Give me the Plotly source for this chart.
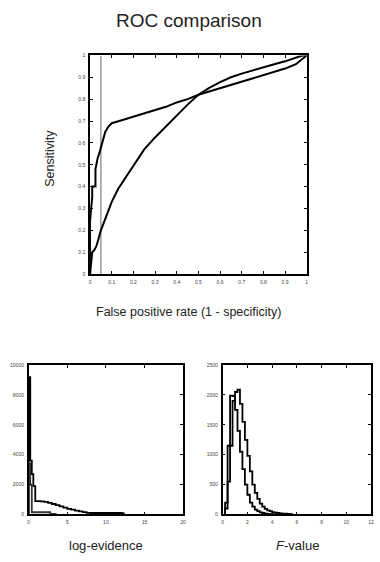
import plotly.graph_objects as go

# ---------------- data ----------------
# ROC curves
roc1_fpr = [0, 0, 0.005, 0.01, 0.01, 0.025, 0.025, 0.035, 0.045, 0.05, 0.06, 0.07, 0.085,
            0.1, 0.15, 0.2, 0.25, 0.3, 0.35, 0.4, 0.45, 0.5, 0.55, 0.6, 0.65, 0.7, 0.75,
            0.8, 0.85, 0.9, 0.95, 1.0]
roc1_tpr = [0, 0.24, 0.3, 0.35, 0.40, 0.40, 0.48, 0.53, 0.56, 0.58, 0.61, 0.65, 0.675,
            0.69, 0.705, 0.72, 0.735, 0.75, 0.765, 0.785, 0.80, 0.82, 0.835, 0.85, 0.865,
            0.88, 0.895, 0.91, 0.925, 0.94, 0.96, 1.0]
roc2_fpr = [0, 0.005, 0.01, 0.02, 0.03, 0.05, 0.07, 0.1, 0.13, 0.15, 0.2, 0.25, 0.3, 0.35,
            0.4, 0.45, 0.5, 0.55, 0.6, 0.65, 0.7, 0.75, 0.8, 0.85, 0.9, 0.95, 0.98, 1.0]
roc2_tpr = [0, 0.05, 0.1, 0.11, 0.13, 0.2, 0.25, 0.33, 0.39, 0.42, 0.50, 0.57, 0.625, 0.675,
            0.725, 0.775, 0.82, 0.852, 0.878, 0.9, 0.917, 0.932, 0.947, 0.96, 0.973, 0.988,
            1.0, 1.0]
threshold_fpr = 0.05

roc_xticks = [0, 0.1, 0.2, 0.3, 0.4, 0.5, 0.6, 0.7, 0.8, 0.9, 1]
roc_yticks = [0, 0.1, 0.2, 0.3, 0.4, 0.5, 0.6, 0.7, 0.8, 0.9, 1]

# log-evidence histograms (bin edges + counts)
le_edges = [0, 0.2, 0.4, 0.6, 0.85, 1.5, 2.0, 2.5, 3.0, 3.5, 4.0, 4.5, 5.0, 5.5, 6.0,
            6.5, 7.0, 7.5, 8.0, 9.0, 10.0, 11.0, 12.0, 12.3]
le_counts_a = [9200, 3600, 2700, 1900, 900, 880, 840, 780, 700, 620, 540, 460, 380, 320,
               260, 210, 160, 110, 100, 100, 100, 100, 90]
le_edges_b = [0, 0.2, 0.4, 2.8, 3.5]
le_counts_b = [3400, 2000, 150, 40]
le_xticks = [0, 5, 10, 15, 20]
le_yticks = [0, 2000, 4000, 6000, 8000, 10000]

# F-value histograms
f_edges = [0.2, 0.4, 0.6, 0.8, 1.0, 1.2, 1.4, 1.6, 1.8, 2.0, 2.2, 2.4, 2.6, 2.8, 3.0,
           3.2, 3.4, 3.6, 3.8, 4.0, 4.2, 4.4, 4.6, 4.8, 5.0, 5.2, 5.4, 5.6]
f_counts_a = [200, 1150, 1990, 1980, 1750, 1400, 1050, 760, 500, 330, 200, 130, 80, 55,
              35, 25, 15, 10, 5, 0, 0, 0, 0, 0, 0, 0, 0]
f_counts_b = [100, 550, 1150, 1900, 2050, 2090, 1850, 1550, 1250, 980, 720, 500, 360,
              260, 180, 130, 95, 70, 55, 40, 30, 25, 20, 15, 12, 10, 5]
f_xticks = [0, 2, 4, 6, 8, 10, 12]
f_yticks = [0, 500, 1000, 1500, 2000, 2500]

# ---------------- figure ----------------
W, H = 380, 562
fig = go.Figure()

def step_xy(edges, counts):
    xs = [edges[0]] + list(edges)
    ys = [0] + list(counts) + [0]
    return xs, ys

LINE = dict(color="black", width=2)

# ROC
fig.add_trace(go.Scatter(x=[threshold_fpr, threshold_fpr], y=[0, 1], mode="lines",
                         line=dict(color="#8a8a8a", width=1.3), xaxis="x", yaxis="y",
                         hoverinfo="skip"))
fig.add_trace(go.Scatter(x=roc1_fpr, y=roc1_tpr, mode="lines", line=LINE,
                         xaxis="x", yaxis="y"))
fig.add_trace(go.Scatter(x=roc2_fpr, y=roc2_tpr, mode="lines", line=LINE,
                         xaxis="x", yaxis="y"))

# log-evidence
xs, ys = step_xy(le_edges, le_counts_a)
fig.add_trace(go.Scatter(x=xs, y=ys, mode="lines", line=dict(color="black", width=1.8, shape="hv"),
                         xaxis="x2", yaxis="y2"))
xs, ys = step_xy(le_edges_b, le_counts_b)
fig.add_trace(go.Scatter(x=xs, y=ys, mode="lines", line=dict(color="#333", width=1.8, shape="hv"),
                         xaxis="x2", yaxis="y2"))

# F-value
xs, ys = step_xy(f_edges, f_counts_a)
fig.add_trace(go.Scatter(x=xs, y=ys, mode="lines", line=dict(color="black", width=1.8, shape="hv"),
                         xaxis="x3", yaxis="y3"))
xs, ys = step_xy(f_edges, f_counts_b)
fig.add_trace(go.Scatter(x=xs, y=ys, mode="lines", line=dict(color="black", width=1.8, shape="hv"),
                         xaxis="x3", yaxis="y3"))

def px_dom_x(a, b):
    return [a / W, b / W]

def px_dom_y(top, bottom):
    return [(H - bottom) / H, (H - top) / H]

TICKFONT = dict(family="Liberation Sans, Arial, sans-serif", size=5, color="#444")

def ax(domain, rng, ticks, anchor):
    return dict(domain=domain, range=rng, tickvals=ticks, ticktext=[str(t) for t in ticks],
                anchor=anchor,
                showline=True, linecolor="black", linewidth=1.5, mirror="allticks",
                ticks="inside", ticklen=3, tickwidth=1, tickcolor="black",
                showgrid=False, zeroline=False, tickfont=TICKFONT, ticklabelstandoff=2)

fig.update_layout(
    width=W, height=H,
    margin=dict(l=0, r=0, t=0, b=0),
    paper_bgcolor="white", plot_bgcolor="white",
    showlegend=False,
    xaxis=ax(px_dom_x(90, 309), [0, 1], roc_xticks, "y"),
    yaxis=ax(px_dom_y(53, 274), [0, 1], roc_yticks, "x"),
    xaxis2=ax(px_dom_x(28, 184), [0, 20], le_xticks, "y2"),
    yaxis2=ax(px_dom_y(366, 517), [0, 10000], le_yticks, "x2"),
    xaxis3=ax(px_dom_x(224, 374), [0, 12], f_xticks, "y3"),
    yaxis3=ax(px_dom_y(366, 517), [0, 2500], f_yticks, "x3"),
)

LABEL_FONT = dict(family="Liberation Sans, Arial, sans-serif", color="#222")
annos = [
    dict(text="ROC comparison", x=190 / W, y=1 - 18 / H, size=19),
    dict(text="False positive rate (1 - specificity)", x=189 / W, y=1 - 312 / H, size=12.5),
    dict(text="log-evidence", x=106 / W, y=1 - 548 / H, size=13),
    dict(text="<i>F</i>-value", x=300 / W, y=1 - 548 / H, size=13),
]
for a in annos:
    fig.add_annotation(text=a["text"], x=a["x"], y=a["y"], xref="paper", yref="paper",
                       showarrow=False, xanchor="center", yanchor="middle",
                       font=dict(size=a["size"], **LABEL_FONT))
fig.add_annotation(text="Sensitivity", x=50 / W, y=1 - 157 / H, xref="paper", yref="paper",
                   showarrow=False, textangle=-90, xanchor="center", yanchor="middle",
                   font=dict(size=12.5, **LABEL_FONT))

fig.write_html("out.html")
